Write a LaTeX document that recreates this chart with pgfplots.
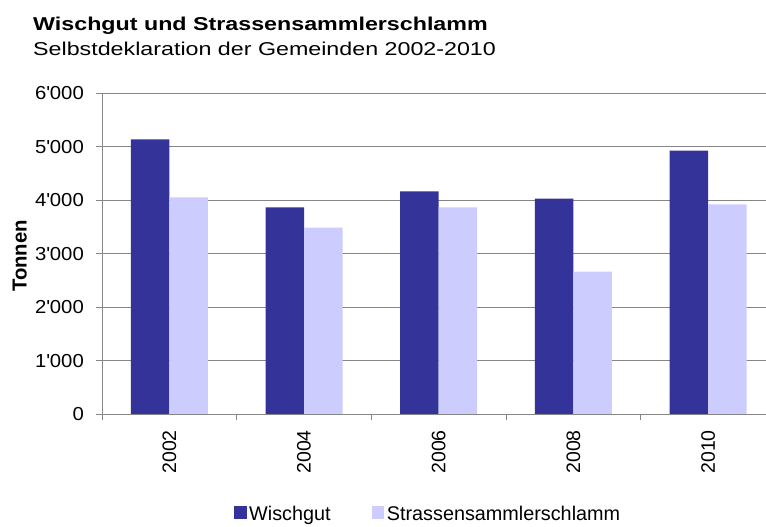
\documentclass[border=0pt]{standalone}
\usepackage{fontspec}
\setmainfont{Liberation Sans}[FakeStretch=1.08]
\newfontfamily\plainfont{Liberation Sans}
\newfontfamily\titlefont{Liberation Sans}[FakeStretch=1.25]
\usepackage{pgfplots}
\pgfplotsset{compat=1.18}
\definecolor{wisch}{RGB}{51,51,153}
\definecolor{strass}{RGB}{204,204,255}
\definecolor{gridgray}{RGB}{134,134,134}
\pgfplotsset{sqlegend/.style={legend image code/.code={\fill[##1] (0bp,1.3bp) rectangle (12.7bp,14bp);}}}
\begin{document}
\begin{tikzpicture}[font=\fontsize{18.8bp}{22bp}\selectfont]
\path[use as bounding box] (0,0) rectangle (766bp,527bp);
\begin{axis}[
  at={(102bp,113bp)}, anchor=south west,
  scale only axis, width=664bp, height=320.7bp,
  xmin=-0.5, xmax=4.43, ymin=0, ymax=6000,
  ybar=0pt, bar width=38.5bp,
  xtick={0,1,2,3,4}, xticklabels={2002,2004,2006,2008,2010},
  minor xtick={-0.5,0.5,1.5,2.5,3.5},
  ytick={0,1000,...,6000},
  ymajorgrids, major grid style={gridgray, line width=0.8bp},
  axis x line*=bottom, axis y line*=left,
  axis line style={gridgray, line width=0.8bp, -},
  tick style={gridgray, line width=0.8bp},
  major x tick style={draw=none},
  tick align=outside,
  major tick length=6bp, minor tick length=6bp,
  /pgf/number format/assume math mode=true,
  /pgf/number format/1000 sep={\textquotesingle},
  yticklabel style={anchor=east, inner sep=0pt},
  yticklabel shift=12bp,
  xticklabel style={rotate=90, anchor=east, inner sep=0pt,
    font=\plainfont\fontsize{19.5bp}{22bp}\selectfont},
  xticklabel shift=10bp,
  ylabel={\plainfont\fontsize{20.3bp}{22bp}\selectfont\bfseries Tonnen},
  ylabel style={at={(axis description cs:-0.1134,0.493)}, anchor=base, inner sep=0pt},
  legend columns=2,
  legend style={at={(0.4895,-0.3114)}, anchor=center, draw=none, fill=none,
    inner sep=0pt, font=\plainfont\fontsize{19.8bp}{22bp}\selectfont,
    nodes={inner sep=0pt, anchor=base west},
    /tikz/column sep=2.6bp,
    /tikz/every even column/.append style={column sep=41bp}},
]
\addplot[fill=wisch, draw=none, sqlegend]
  coordinates {(0,5140) (1,3867) (2,4166) (3,4029) (4,4927)};
\addlegendentry{Wischgut}
\addplot[fill=strass, draw=none, sqlegend]
  coordinates {(0,4054) (1,3487) (2,3867) (3,2663) (4,3923)};
\addlegendentry{Strassensammlerschlamm}
\end{axis}
\node[anchor=base west, inner sep=0pt] at (33bp,496.5bp)
  {\titlefont\fontsize{18.6bp}{21bp}\selectfont\bfseries Wischgut und Strassensammlerschlamm};
\node[anchor=base west, inner sep=0pt] at (33bp,471.5bp)
  {\titlefont\fontsize{18.6bp}{21bp}\selectfont Selbstdeklaration der Gemeinden 2002-2010};
\end{tikzpicture}
\end{document}
